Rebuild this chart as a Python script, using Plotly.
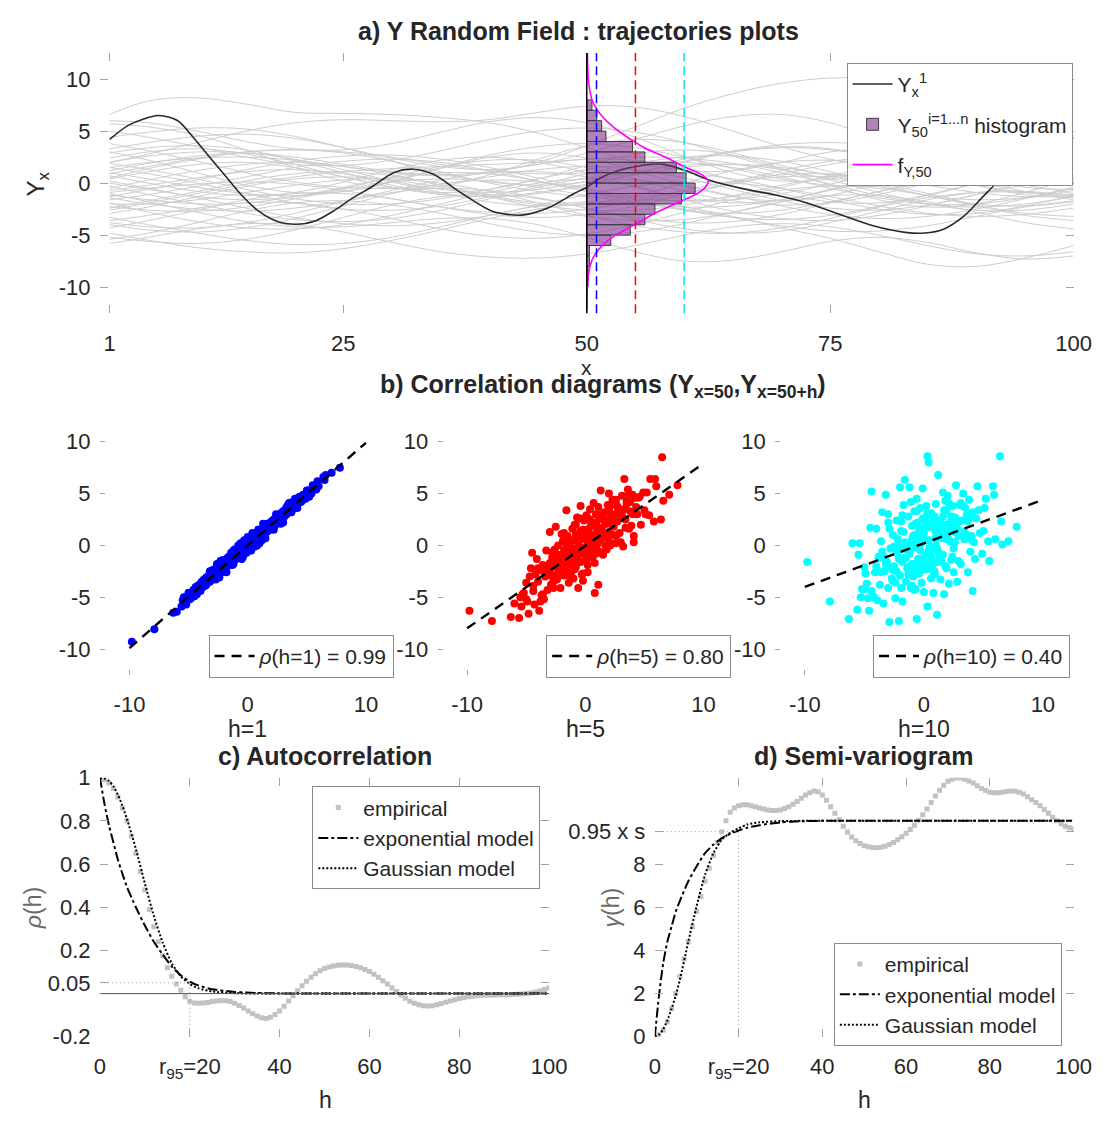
import plotly.graph_objects as go

W, H = 1119, 1129
def fx(p):
    return p / W
def fy(p):
    return 1 - p / H

FONT = "Liberation Sans, Arial, Helvetica, sans-serif"
TXT = "#262626"
AXC = "#a3a3a3"

# ---------------- panel a data ----------------
traj_x = [1, 5, 10, 15, 20, 25, 30, 35, 40, 45, 50, 55, 60, 65, 70, 75, 80, 85, 90, 95, 100]
gray_trajectories = [
    [6.6, 7.9, 8.2, 7.6, 6.8, 6.7, 6.6, 6.3, 5.8, 4.8, 3.4, 2.0, 1.2, 1.2, 2.0, 3.0, 3.3, 2.6, 1.4, 0.6, 0.6],
    [6.0, 5.8, 5.0, 4.0, 3.3, 3.2, 3.8, 4.9, 5.9, 6.3, 5.8, 4.4, 2.6, 1.0, 0.2, 0.4, 1.5, 3.0, 4.2, 4.6, 4.0],
    [5.7, 5.4, 4.6, 3.2, 1.5, 0.2, -0.5, -0.3, 0.8, 2.3, 3.6, 4.2, 3.9, 2.9, 1.7, 0.8, 0.6, 1.3, 2.6, 3.8, 4.5],
    [3.3, 3.9, 4.5, 4.7, 4.3, 3.4, 2.4, 1.6, 1.3, 1.8, 2.9, 4.2, 5.5, 6.4, 6.6, 5.8, 4.2, 2.3, 0.6, -0.4, -0.6],
    [3.0, 2.2, 1.0, -0.2, -0.9, -0.8, 0.1, 1.4, 2.5, 2.9, 2.4, 1.2, -0.2, -1.3, -1.7, -1.2, 0.1, 1.6, 2.7, 3.0, 2.5],
    [2.4, 3.0, 3.3, 2.8, 1.8, 0.6, -0.4, -0.9, -0.6, 0.4, 1.7, 2.8, 3.2, 2.7, 1.4, -0.2, -1.6, -2.3, -2.0, -0.9, 0.5],
    [1.2, 1.9, 2.6, 2.9, 2.5, 1.8, 1.1, 0.8, 1.1, 1.8, 2.3, 2.2, 1.5, 0.3, -1.0, -1.8, -1.9, -1.2, 0.0, 1.2, 2.0],
    [0.7, 0.0, -0.8, -1.2, -0.9, 0.1, 1.3, 2.2, 2.5, 2.0, 1.0, -0.3, -1.4, -1.9, -1.6, -0.6, 0.8, 2.0, 2.6, 2.4, 1.6],
    [0.4, 1.1, 1.8, 2.0, 1.5, 0.6, -0.4, -1.1, -1.3, -0.9, -0.1, 0.8, 1.5, 1.8, 1.5, 0.7, -0.3, -1.2, -1.6, -1.4, -0.7],
    [0.0, -0.6, -1.3, -1.6, -1.3, -0.5, 0.6, 1.6, 2.2, 2.2, 1.5, 0.4, -0.8, -1.7, -2.1, -1.9, -1.1, 0.0, 1.0, 1.6, 1.7],
    [-0.7, -0.2, 0.5, 1.1, 1.3, 0.9, 0.1, -0.9, -1.8, -2.2, -2.0, -1.2, 0.0, 1.2, 2.0, 2.2, 1.7, 0.8, -0.2, -0.9, -1.1],
    [-1.15, -1.6, -2.0, -1.9, -1.3, -0.4, 0.5, 1.0, 0.9, 0.2, -0.8, -1.8, -2.6, -2.9, -2.6, -1.8, -0.8, 0.1, 0.6, 0.6, 0.2],
    [-1.6, -1.1, -0.3, 0.6, 1.5, 2.1, 2.3, 2.0, 1.2, 0.2, -0.8, -1.5, -1.7, -1.3, -0.4, 0.7, 1.7, 2.3, 2.3, 1.7, 0.8],
    [-2.25, -2.6, -2.7, -2.3, -1.5, -0.6, 0.1, 0.4, 0.2, -0.4, -1.2, -1.9, -2.3, -2.2, -1.6, -0.7, 0.3, 1.0, 1.3, 1.1, 0.5],
    [-2.9, -2.3, -1.3, -0.3, 0.4, 0.6, 0.3, -0.4, -1.3, -2.1, -2.6, -2.6, -2.1, -1.2, -0.2, 0.6, 1.0, 0.8, 0.1, -0.8, -1.6],
    [-3.8, -4.2, -4.3, -3.8, -2.9, -1.8, -0.9, -0.5, -0.7, -1.4, -2.4, -3.3, -3.8, -3.7, -3.0, -1.9, -0.8, 0.0, 0.2, -0.2, -1.0],
    [-4.3, -3.6, -2.6, -1.6, -1.0, -1.0, -1.5, -2.3, -3.0, -3.3, -3.0, -2.2, -1.1, 0.0, 0.6, 0.6, 0.0, -1.0, -2.1, -2.9, -3.2],
    [-5.2, -5.6, -5.8, -5.4, -4.5, -3.3, -2.1, -1.3, -1.1, -1.5, -2.4, -3.5, -4.4, -4.8, -4.6, -3.8, -2.7, -1.6, -0.9, -0.8, -1.2],
    [-5.4, -4.8, -3.8, -2.7, -1.9, -1.7, -2.1, -2.9, -3.9, -4.7, -5.0, -4.7, -3.9, -2.8, -1.8, -1.2, -1.2, -1.8, -2.8, -3.8, -4.4],
    [4.4, 4.9, 5.3, 5.2, 4.5, 3.4, 2.1, 0.9, 0.1, -0.2, 0.1, 0.9, 2.0, 3.0, 3.5, 3.3, 2.4, 1.1, -0.2, -1.1, -1.4],
    [1.9, 1.3, 0.4, -0.6, -1.5, -2.0, -2.0, -1.5, -0.6, 0.4, 1.3, 1.9, 2.0, 1.5, 0.6, -0.5, -1.4, -2.0, -2.0, -1.4, -0.4],
    [-0.3, -1.1, -2.0, -2.9, -3.5, -3.7, -3.4, -2.6, -1.5, -0.4, 0.5, 1.0, 1.0, 0.4, -0.5, -1.6, -2.5, -3.0, -2.9, -2.2, -1.2],
    [-3.3, -4.0, -4.8, -5.5, -5.9, -5.8, -5.2, -4.2, -3.1, -2.2, -1.8, -1.9, -2.5, -3.3, -4.1, -4.6, -4.6, -4.1, -3.2, -2.3, -1.7],
    [1.5, 0.9, 0.0, -1.0, -1.9, -2.5, -2.6, -2.2, -1.3, -0.2, 0.9, 1.9, 2.5, 2.6, 2.1, 1.1, -0.1, -1.2, -2.0, -2.2, -1.8],
    [-1.9, -2.8, -3.7, -4.3, -4.4, -4.0, -3.1, -2.0, -0.9, 0.0, 0.4, 0.3, -0.3, -1.2, -2.2, -3.0, -3.4, -3.2, -2.5, -1.5, -0.5],
    [2.9, 3.4, 3.6, 3.2, 2.2, 1.0, -0.2, -1.0, -1.3, -1.0, -0.2, 0.9, 2.1, 3.0, 3.4, 3.2, 2.5, 1.5, 0.6, 0.1, 0.1],
    [-4.8, -5.5, -6.2, -6.6, -6.7, -6.3, -5.5, -4.5, -3.4, -2.5, -1.9, -1.8, -2.3, -3.2, -4.3, -5.3, -6.6, -7.8, -8.0, -7.2, -6.0],
    [0.9, 1.6, 2.4, 3.0, 3.2, 3.0, 2.5, 1.8, 1.2, 0.9, 1.0, 1.5, 2.3, 3.1, 3.7, 3.9, 3.6, 2.9, 2.0, 1.2, 0.7],
    [-0.9, -0.5, -0.1, 0.1, -0.1, -0.7, -1.5, -2.3, -2.8, -2.9, -2.5, -1.7, -0.7, 0.2, 0.8, 0.9, 0.5, -0.2, -0.9, -1.3, -1.2],
    [-2.6, -1.9, -1.0, -0.1, 0.6, 1.1, 1.4, 1.6, 1.8, 2.0, 2.3, 2.5, 2.4, 1.9, 1.0, -0.1, -1.2, -2.0, -2.3, -2.0, -1.3],
    [5.0, 4.4, 3.5, 2.5, 1.8, 1.7, 2.2, 3.1, 4.2, 5.0, 5.3, 4.9, 3.9, 2.6, 1.3, 0.4, 0.2, 0.8, 1.8, 2.9, 3.6],
    [-3.6, -3.1, -2.4, -1.9, -1.9, -2.5, -3.4, -4.4, -5.1, -5.3, -4.9, -4.0, -2.8, -1.6, -0.7, -0.3, -0.5, -1.2, -2.2, -3.1, -3.6],
    [0.2, -0.5, -1.4, -2.4, -3.3, -3.9, -4.1, -3.8, -3.1, -2.1, -1.1, -0.3, 0.1, 0.0, -0.5, -1.3, -2.2, -2.9, -3.2, -3.0, -2.4],
    [-1.3, -0.6, 0.3, 1.3, 2.1, 2.6, 2.7, 2.3, 1.5, 0.5, -0.5, -1.3, -1.7, -1.6, -1.0, -0.1, 0.9, 1.7, 2.1, 2.0, 1.4],
    [2.0, 2.6, 3.0, 2.9, 2.3, 1.3, 0.2, -0.6, -0.9, -0.6, 0.2, 1.1, 1.7, 1.8, 1.3, 0.3, -0.9, -2.0, -2.6, -2.6, -2.0],
    [-4.0, -4.5, -4.7, -4.3, -3.4, -2.2, -1.0, -0.1, 0.3, 0.1, -0.6, -1.6, -2.6, -3.3, -3.5, -3.1, -2.2, -1.1, -0.1, 0.6, 0.8],
    [3.8, 3.1, 2.1, 1.0, 0.1, -0.4, -0.5, -0.1, 0.6, 1.3, 1.6, 1.3, 0.5, -0.6, -1.7, -2.4, -2.6, -2.1, -1.1, 0.1, 1.2],
    [-0.5, 0.3, 1.2, 1.8, 2.0, 1.6, 0.8, -0.2, -1.2, -1.9, -2.1, -1.8, -1.0, 0.1, 1.2, 2.1, 2.5, 2.4, 1.8, 0.9, 0.0],
    [-2.0, -2.0, -1.6, -0.9, -0.2, 0.3, 0.4, 0.0, -0.8, -1.9, -3.1, -4.1, -4.7, -4.8, -4.3, -3.4, -2.3, -1.4, -0.9, -0.9, -1.4],
    [1.0, 0.4, -0.4, -1.0, -1.2, -0.8, 0.2, 1.5, 2.7, 3.5, 3.8, 3.4, 2.5, 1.4, 0.4, -0.2, -0.3, 0.2, 1.0, 1.8, 2.2],
    [-1.4, -2.0, -2.5, -2.7, -2.4, -1.7, -0.7, 0.3, 1.0, 1.1, 0.6, -0.4, -1.6, -2.7, -3.4, -3.6, -3.1, -2.2, -1.1, -0.2, 0.3],
    [0.5, 1.4, 2.3, 3.0, 3.2, 2.9, 2.1, 1.1, 0.0, -0.8, -1.3, -1.3, -0.9, -0.1, 0.9, 1.8, 2.4, 2.5, 2.0, 1.1, 0.1],
    [-2.4, -1.7, -0.8, 0.2, 0.9, 1.1, 0.7, -0.2, -1.3, -2.4, -3.2, -3.6, -3.5, -2.8, -1.8, -0.6, 0.4, 1.0, 1.1, 0.7, 0.0],
    [1.5, 2.0, 2.4, 2.5, 2.2, 1.6, 1.0, 0.7, 1.0, 2.0, 3.6, 5.4, 7.2, 8.6, 9.6, 10.1, 10.0, 9.2, 7.8, 6.4, 5.4],
    [2.0, 2.8, 3.9, 5.0, 5.8, 6.1, 6.0, 5.9, 6.1, 6.8, 7.4, 7.3, 6.4, 5.0, 3.5, 2.3, 1.6, 1.6, 2.2, 3.0, 3.6],
    [-5.8, -5.2, -4.4, -3.9, -4.0, -4.7, -5.7, -6.6, -7.1, -7.2, -6.8, -6.0, -5.0, -4.2, -3.9, -4.2, -5.0, -6.0, -6.8, -7.0, -6.6],
    [-1.0, -1.8, -2.8, -3.7, -4.2, -4.2, -3.8, -3.4, -3.4, -4.0, -5.2, -6.6, -7.5, -7.4, -6.6, -5.6, -5.2, -5.7, -6.7, -7.3, -7.0],
]

y1_x = [1, 3, 6, 8, 9.4, 11, 12.7, 14.4, 16.1, 18.1, 20.1, 22.1, 24.2, 26, 27.9, 30.2, 32.2, 34.2, 37.2, 40.3,
        43.3, 46, 48.7, 50, 51.2, 53.2, 55.9, 57.9, 60.2, 62.7, 66, 69.4, 72.7, 76, 79.4, 82.7, 84.7, 86.7,
        88.7, 90.7, 92, 94, 96, 98, 100]
y1_val = [4.2, 5.6, 6.5, 6.0, 4.6, 2.8, 0.9, -1.0, -2.55, -3.64, -3.95, -3.64, -2.55, -1.4, -0.37, 1.03, 1.34,
          0.87, -1.0, -2.71, -3.08, -2.4, -1.0, -0.4, 0.4, 1.18, 1.75, 1.8, 1.18, 0.25, -0.53, -1.15, -1.93,
          -3.02, -4.1, -4.73, -4.8, -4.4, -3.2, -1.3, -0.06, 1.6, 3.3, 4.2, 4.3]

hist_centers = [7.5, 6.5, 5.5, 4.5, 3.5, 2.5, 1.5, 0.5, -0.5, -1.5, -2.5, -3.5, -4.5, -5.5, -6.5, -7.5, -8.5, -9.5]
hist_lengths = [0.53, 1.03, 1.53, 1.97, 4.7, 5.97, 9.2, 10.2, 11.13, 9.73, 7.0, 5.97, 4.47, 2.47, 0.27, 0.27, 0.13, 0.13]

pdf_y = [12.7, 11.15, 9.6, 8.04, 7.1, 6.48, 5.55, 4.6, 3.99, 3.36, 2.43, 1.5, 0.87, 0.24, -0.38, -1.0, -1.93,
         -2.87, -3.49, -4.11, -5.05, -5.98, -6.92, -7.85, -9.1, -10.65, -12.2]
pdf_x = [50.07, 50.1, 50.2, 50.53, 51.03, 51.53, 52.53, 53.87, 54.87, 56.03, 58.2, 60.2, 61.7, 62.47, 62.2,
         61.37, 59.2, 57.03, 55.87, 54.7, 52.87, 51.6, 50.8, 50.37, 50.13, 50.03, 50.02]

lag_x = [51, 55, 60]
lag_colors = ["#0000ff", "#ff0000", "#00e5ee"]

# ---------------- panel b data ----------------
y50 = [
    -9.8, -7.9, -6.3, -6.0, -5.6, -5.5, -5.4, -5.2, -5.0, -4.8,
    -4.6, -4.5, -4.4, -4.3, -4.1, -4.0, -3.9, -3.8, -3.7, -3.6,
    -3.5, -3.4, -3.3, -3.2, -3.1, -3.0, -2.9, -2.8, -2.7, -2.6,
    -2.5, -2.4, -2.3, -2.2, -2.1, -2.0, -1.9, -1.8, -1.7, -1.6,
    -1.6, -1.5, -1.4, -1.4, -1.3, -1.2, -1.2, -1.1, -1.0, -1.0,
    -0.9, -0.9, -0.8, -0.8, -0.7, -0.7, -0.6, -0.6, -0.5, -0.5,
    -0.4, -0.4, -0.3, -0.3, -0.2, -0.2, -0.1, 0.0, 0.0, 0.1,
    0.1, 0.2, 0.3, 0.3, 0.4, 0.4, 0.5, 0.6, 0.6, 0.7,
    0.8, 0.8, 0.9, 1.0, 1.0, 1.1, 1.2, 1.3, 1.3, 1.4,
    1.5, 1.6, 1.6, 1.7, 1.8, 1.9, 2.0, 2.1, 2.2, 2.3,
    2.4, 2.5, 2.6, 2.7, 2.8, 2.9, 3.0, 3.1, 3.2, 3.3,
    3.4, 3.5, 3.7, 3.8, 4.0, 4.1, 4.3, 4.5, 4.1, 4.7,
    4.9, 5.1, 5.4, 5.5, 5.8, 5.9, 6.4, 6.5, 6.6, 7.1,
    7.8, -2.0, -3.0, -1.0, 0.5, 1.2, 2.2, -0.3, -1.5, 0.9,
    -2.6, 3.6, -4.2, 1.7, -0.8, 0.2, -2.3, 2.6, -1.9, 4.4,
    -3.4, 0.7, -0.2, 1.5, -1.1, 3.9, -4.7, 2.0, -0.4, 0.3,
    -2.8, -1.3, 0.4, 1.9, -0.6, 2.8, -3.6, 0.9, -1.8, 1.4,
    -0.2, 3.3, -2.2, 0.6, -4.0, 2.1, -1.0, 0.0, 1.1, -2.9,
    3.0, -0.7, 1.6, -1.5, 4.2, -3.2, 0.3, 2.4, -0.9, -2.4,
    1.3, -0.4, 3.7, -1.7, 0.8, -5.0, 2.6, -1.2, 0.1, 1.8,
    -3.8, -0.1, 2.2, -2.6, 1.0, 5.2, -0.5, -1.9, 3.4, 0.5,
    -1.1, 2.9, -3.4, 1.5, -0.8, 0.2, 4.6, -2.0, 1.2, -0.3,
    -4.4, 2.0, 0.7, -1.4, 3.1, -2.7, 0.4, 1.7, -0.6, 6.0,
    -3.0, 1.0, -1.6, 2.5, -0.1, -2.1, 3.8, 0.6, -1.0, 1.4,
    -5.3, 0.9, 2.3, -2.3, -0.4, 4.0, 1.1, -3.5, 0.0, 2.7,
    -1.2, 5.0, -0.8, 1.9, -2.5, 0.3, 3.5, -1.8, -4.9, 1.6]
y51 = [
    -9.3, -8.1, -6.5, -6.4, -5.9, -5.3, -5.0, -5.7, -4.6, -5.1,
    -4.3, -4.9, -4.1, -4.7, -3.8, -4.4, -3.5, -4.0, -3.3, -3.9,
    -3.1, -3.6, -2.9, -3.5, -2.8, -3.3, -2.6, -3.1, -2.4, -2.9,
    -2.2, -2.7, -2.0, -2.6, -1.8, -2.3, -1.6, -2.1, -1.4, -1.9,
    -1.3, -1.8, -1.1, -1.7, -1.0, -1.5, -0.9, -1.4, -0.7, -1.3,
    -0.6, -1.2, -0.5, -1.1, -0.4, -1.0, -0.3, -0.9, -0.2, -0.8,
    -0.1, -0.7, 0.0, -0.6, 0.1, -0.5, 0.2, -0.3, 0.3, -0.2,
    0.4, -0.1, 0.6, 0.0, 0.7, 0.1, 0.8, 0.3, 0.9, 0.4,
    1.1, 0.5, 1.2, 0.7, 1.3, 0.8, 1.5, 1.0, 1.6, 1.1,
    1.8, 1.3, 1.9, 1.4, 2.1, 1.6, 2.3, 1.8, 2.5, 2.0,
    2.7, 2.2, 2.9, 2.4, 3.1, 2.6, 3.3, 2.8, 3.5, 3.0,
    3.7, 3.2, 4.0, 3.5, 4.3, 3.8, 4.6, 4.2, 4.2, 4.9,
    4.5, 5.3, 5.0, 5.8, 5.4, 6.2, 6.6, 6.3, 6.8, 7.0,
    7.5, -1.7, -2.7, -0.8, 0.2, 0.9, 1.9, -0.1, -1.2, 0.6,
    -2.3, 3.3, -3.9, 1.9, -0.6, 0.5, -2.5, 2.8, -2.2, 4.7,
    -3.1, 1.0, -0.4, 1.2, -0.8, 4.1, -4.5, 1.7, -0.2, 0.2,
    -2.3, -1.9, 1.1, 1.5, 0.2, 2.1, -3.3, 1.5, -2.6, 1.6,
    -0.7, 3.7, -1.5, -0.1, -3.9, 1.8, -0.4, 0.8, 0.5, -2.5,
    2.2, -0.2, 1.9, -1.7, 3.6, -2.5, -0.1, 3.0, -0.7, -3.1,
    2.1, -0.7, 3.2, -1.2, 0.0, -4.6, 2.7, -0.5, -0.5, 2.1,
    -4.0, 0.5, 1.5, -1.8, 1.4, 4.7, -1.3, -1.7, 3.9, 0.1,
    -0.4, 2.3, -3.1, 0.7, -0.2, 0.2, 4.3, -1.5, 0.5, 0.5,
    -4.0, 2.2, 0.2, -0.7, 2.9, -3.3, 1.2, 2.0, -1.0, 5.7,
    -2.4, 0.2, -1.1, 2.6, -0.7, -1.4, 4.2, 0.1, -0.7, 0.7,
    -5.1, 1.5, 1.9, -1.5, -1.1, 4.5, 1.2, -3.8, 0.7, 2.2,
    -1.8, 5.3, 0.0, 1.7, -2.1, -0.5, 4.1, -1.6, -5.2, 2.1]
y55 = [
    -6.3, -7.3, -6.9, -5.6, -7.0, -5.0, -5.9, -4.6, -3.6, -6.6,
    -2.2, -0.7, -3.9, -5.7, -1.3, -3.5, -6.3, -2.4, -4.8, -1.9,
    -5.2, -3.0, -0.5, -4.3, -2.6, 1.3, -3.8, -1.2, -4.1, -2.0,
    1.8, -3.3, -0.9, -2.5, -4.1, -1.5, 0.4, -2.9, -1.0, 3.4,
    -2.2, 0.9, -1.7, -3.6, 0.2, -1.3, -2.6, 1.6, -0.6, -1.9,
    2.0, -0.3, -2.1, 0.8, -1.1, 2.7, -4.1, 0.3, -0.8, 1.2,
    -1.6, 3.8, -0.2, -2.8, 1.5, -0.6, 2.4, -1.4, 0.6, -0.1,
    2.9, -1.9, 1.1, 0.4, -0.7, 3.5, 0.0, 1.9, -1.2, 4.1,
    0.7, -4.6, 2.2, 0.1, 1.4, -3.8, 2.6, 0.5, 5.3, 1.7,
    -0.9, 3.2, 1.0, 2.1, -0.4, 3.9, 1.3, 2.7, 0.2, 4.4,
    1.8, 3.0, 0.9, 2.3, 3.6, 1.2, 2.8, 4.8, -0.1, 6.4,
    2.5, 4.0, 1.6, 3.3, 4.9, 0.9, 3.7, 4.6, 0.3, 2.0,
    5.1, 3.0, 2.9, 6.4, 2.3, 6.4, 2.5, 8.5, 4.3, 4.9,
    5.8, 1.1, -1.7, -3.2, 2.1, -0.6, 3.9, 0.9, -0.1, 3.0,
    -0.4, 5.4, -2.8, 0.0, 2.0, -2.6, 0.0, 0.2, -1.9, 3.0,
    -2.0, -0.3, -3.4, 2.5, -1.2, 1.9, -3.0, 5.0, 1.4, -0.9,
    -0.7, -3.0, 2.5, 0.7, 0.4, 3.5, -4.7, -0.8, 1.2, 3.0,
    -2.7, 3.5, -2.9, 1.0, -2.2, 0.0, 0.5, -0.9, 3.7, -2.9,
    0.3, -0.4, 0.8, 0.7, 4.6, -2.1, 1.6, 1.0, -2.3, -1.6,
    1.1, 2.6, 5.0, -2.8, -1.7, -5.2, 4.4, -0.7, 0.7, 1.0,
    -5.4, -0.8, 2.5, -1.3, 1.8, 5.1, -1.6, -1.8, 1.7, 0.7,
    -1.5, 3.0, -2.3, 0.9, 1.1, -1.2, 4.7, -1.1, 1.4, 0.7,
    -4.4, 3.4, 0.4, -1.6, 2.9, -3.5, -0.5, 2.4, -0.9, 5.7,
    -2.6, 1.1, -0.1, 2.5, 0.7, -1.5, 4.2, -0.2, -1.0, 1.3,
    -4.7, 1.8, 2.1, -2.4, -0.2, 3.0, 0.3, -2.5, 1.1, 3.8,
    -0.8, 3.4, -1.4, 2.1, -2.9, 0.6, 4.3, -0.5, -5.4, 0.9]
y60 = [
    -1.6, -5.4, -7.1, 0.2, -6.2, -0.9, 0.2, -4.2, -2.1, -3.7,
    -6.3, 1.7, 5.2, -4.9, -2.6, 1.6, -5.3, -1.2, -3.8, 0.4,
    3.2, -5.6, -2.5, 4.9, -1.6, 2.2, -7.4, -0.3, -3.2, 1.0,
    -2.0, -5.1, 2.4, -0.8, -7.3, -2.9, 1.4, -5.4, 3.9, -1.2,
    6.3, -3.5, 0.1, -2.2, 2.8, -0.6, 5.6, -4.1, 1.9, -1.8,
    0.7, -3.0, 3.3, -4.3, -0.2, 2.1, -7.1, 4.5, -1.3, 0.9,
    -2.7, 1.5, -0.5, 3.6, -3.6, 0.3, 5.5, -4.5, 1.2, -1.0,
    2.6, -2.3, 8.6, -5.9, 8.0, 0.5, -1.7, 3.1, -0.4, 1.8,
    -4.6, 2.3, -2.5, 0.0, 4.0, -6.7, 6.8, -1.1, 2.0, -3.3,
    1.1, 5.1, -0.9, 3.4, -2.0, 0.6, 4.8, -3.7, 1.6, -1.4,
    3.8, -0.3, 2.7, 5.8, -3.5, 0.9, 3.9, -1.8, 2.4, 5.0,
    1.3, 3.6, -2.6, 4.4, 0.9, 3.2, -1.3, 5.7, -4.4, 1.2,
    -0.8, 3.6, 0.4, -1.5, 5.7, 4.9, 8.6, 2.3, 0.1, 0.4,
    1.8, 5.6, 3.0, -3.9, -0.1, 1.7, 2.2, 0.1, -1.2, -2.8,
    -3.4, 2.9, -5.0, -4.7, 1.0, 3.8, -0.5, 0.3, 2.3, 2.6,
    -1.1, 2.9, -2.4, -1.6, 4.2, -0.6, -5.1, 0.8, -1.9, 2.0,
    -0.3, -2.8, 1.8, -2.2, 3.3, 1.6, -2.6, 2.8, -1.6, -1.3,
    0.8, 3.8, 0.6, -3.2, -2.0, 4.1, -2.0, 0.6, -0.3, 1.6,
    2.3, -4.2, 2.8, -0.4, 0.3, -1.8, 3.1, -1.1, 0.9, -3.6,
    2.4, -1.3, 2.3, 1.3, -2.5, -4.2, 1.3, -0.8, 1.8, 4.3,
    -1.1, -1.9, 0.4, -2.4, 1.3, 4.5, 2.2, -4.1, 0.6, -1.3,
    0.3, -1.5, -1.2, 1.8, -2.4, 2.2, 3.4, -0.1, -0.6, 1.4,
    -4.4, 1.3, -2.2, -0.2, 4.1, -2.1, -0.5, 2.0, 0.5, 0.6,
    -4.1, 0.7, 0.3, -2.6, 2.6, -1.3, 2.7, -1.1, 0.6, 1.4,
    -5.0, -0.2, 2.8, -2.5, 1.0, 0.6, -1.6, -0.6, -1.4, 2.1,
    -2.0, 1.4, 0.8, 3.4, -0.1, -1.2, 1.1, 2.9, -2.7, 0.7]

lags = [1, 5, 10]
rho_values = ["0.99", "0.80", "0.40"]
fit_x = [-10, 10]
fit_y = [[-9.9, 9.9], [-8.0, 7.9], [-4.0, 4.4]]
scatter_colors = ["#0000ff", "#ff0000", "#00ffff"]

# ---------------- panel c / d data ----------------
h_emp = list(range(0, 101))
rho_emp = [1.0, 0.99, 0.975, 0.95, 0.91, 0.86, 0.80, 0.73, 0.65, 0.565, 0.48, 0.39, 0.31, 0.24, 0.175, 0.12,
           0.08, 0.045, 0.015, -0.015, -0.035, -0.043, -0.045, -0.044, -0.041, -0.037, -0.034, -0.032,
           -0.033, -0.037, -0.045, -0.055, -0.067, -0.08, -0.093, -0.104, -0.112, -0.115, -0.11, -0.097,
           -0.08, -0.058, -0.034, -0.01, 0.013, 0.036, 0.057, 0.076, 0.092, 0.106, 0.116, 0.123, 0.128,
           0.131, 0.132, 0.132, 0.13, 0.126, 0.12, 0.112, 0.102, 0.09, 0.076, 0.06, 0.044, 0.027, 0.01,
           -0.007, -0.022, -0.035, -0.045, -0.052, -0.056, -0.057, -0.056, -0.052, -0.046, -0.04, -0.034,
           -0.028, -0.023, -0.019, -0.015, -0.012, -0.01, -0.008, -0.007, -0.006, -0.006, -0.005, -0.005,
           -0.005, -0.004, -0.003, -0.002, 0.0, 0.003, 0.007, 0.012, 0.019, 0.027]
gamma_emp = [0, 0.1, 0.3, 0.7, 1.3, 2.0, 2.8, 3.6, 4.4, 5.1, 5.8, 6.5, 7.2, 7.8, 8.4, 9.0, 9.5, 10.0, 10.4,
             10.6, 10.7, 10.75, 10.75, 10.7, 10.65, 10.6, 10.55, 10.5, 10.48, 10.48, 10.5, 10.57, 10.65,
             10.77, 10.9, 11.05, 11.2, 11.3, 11.38, 11.35, 11.2, 10.95, 10.65, 10.35, 10.05, 9.75, 9.48,
             9.25, 9.08, 8.95, 8.85, 8.8, 8.77, 8.76, 8.78, 8.82, 8.9, 9.0, 9.12, 9.26, 9.42, 9.6, 9.8,
             10.03, 10.28, 10.55, 10.85, 11.15, 11.42, 11.65, 11.83, 11.93, 11.98, 11.98, 11.93, 11.85,
             11.75, 11.63, 11.5, 11.4, 11.33, 11.3, 11.3, 11.32, 11.36, 11.38, 11.37, 11.32, 11.24, 11.12,
             10.98, 10.85, 10.7, 10.52, 10.35, 10.17, 10.0, 9.85, 9.75, 9.68, 9.62]

h_model = [0, 1, 2, 3, 4, 5, 6, 8, 10, 12, 14, 16, 18, 20, 22, 25, 30, 35, 40, 100]
rho_exp_model = [1.0, 0.88, 0.78, 0.70, 0.62, 0.555, 0.495, 0.40, 0.315, 0.24, 0.18, 0.125, 0.085, 0.056,
                 0.037, 0.02, 0.008, 0.003, 0.001, 0.0]
rho_gau_model = [1.0, 0.996, 0.985, 0.96, 0.92, 0.87, 0.81, 0.67, 0.51, 0.36, 0.235, 0.14, 0.08, 0.045,
                 0.024, 0.01, 0.002, 0.0, 0.0, 0.0]
gam_exp_model = [0, 1.9, 3.4, 4.4, 5.1, 5.8, 6.3, 7.2, 7.9, 8.5, 8.9, 9.2, 9.4, 9.55, 9.68, 9.8, 9.93, 9.98,
                 10.0, 10.0]
gam_gau_model = [0, 0.1, 0.35, 0.75, 1.3, 1.9, 2.65, 4.4, 6.05, 7.5, 8.5, 9.13, 9.45, 9.65, 9.83, 9.93,
                 9.99, 10.0, 10.0, 10.0]
r95 = 20
rho_thr = 0.05
sill_thr = 9.5

# tick labels (plain hyphen minus, as in the reference)
top_xticks = [1, 25, 50, 75, 100]
yx_ticks = [-10, -5, 0, 5, 10]
yx_ticktext = ["-10", "-5", "0", "5", "10"]
b_xticks = [-10, 0, 10]
b_xticktext = ["-10", "0", "10"]
h_ticks = [0, 20, 40, 60, 80, 100]
h_ticktext = ["0", "r<sub>95</sub>=20", "40", "60", "80", "100"]
rho_ticks = [-0.2, 0.05, 0.2, 0.4, 0.6, 0.8, 1.0]
rho_ticktext = ["-0.2", "0.05", "0.2", "0.4", "0.6", "0.8", "1"]
gam_ticks = [0, 2, 4, 6, 8, 9.5]
gam_ticktext = ["0", "2", "4", "6", "8", "0.95 x s"]

# ---------------- figure ----------------
fig = go.Figure()

# panel a
for tr in gray_trajectories:
    fig.add_trace(go.Scatter(x=traj_x, y=tr, mode="lines", xaxis="x", yaxis="y",
                             line=dict(color="rgb(205,205,205)", width=1, shape="spline", smoothing=1.0),
                             showlegend=False, hoverinfo="skip", zorder=0))
fig.add_trace(go.Scatter(x=y1_x, y=y1_val, mode="lines", xaxis="x", yaxis="y",
                         line=dict(color="#2a2a2a", width=1.6, shape="spline", smoothing=0.8),
                         name="Y<sub>x</sub><sup>1</sup>", legend="legend", legendgroup="g1", zorder=0))
fig.add_trace(go.Bar(y=hist_centers, x=hist_lengths, base=50, orientation="h", width=1,
                     xaxis="x", yaxis="y",
                     marker=dict(color="rgba(126,47,142,0.6)", line=dict(color="#3c3c3c", width=1)),
                     name="Y<sub>50</sub><sup>i=1...n</sup> histogram", legend="legend", legendgroup="g2",
                     zorder=1))
fig.add_trace(go.Scatter(x=pdf_x, y=pdf_y, mode="lines", xaxis="x", yaxis="y",
                         line=dict(color="#ff00ff", width=1.6, shape="spline", smoothing=0.8),
                         name="f<sub>Y,50</sub>", legend="legend", legendgroup="g3", zorder=2))

shapes = []
shapes.append(dict(type="line", xref="x", yref="y domain", x0=50, x1=50, y0=0, y1=1,
                   line=dict(color="#000000", width=1.5)))
for lx, lc in zip(lag_x, lag_colors):
    shapes.append(dict(type="line", xref="x", yref="y domain", x0=lx, x1=lx, y0=0, y1=1,
                       line=dict(color=lc, width=1.5, dash="9px,5px")))

# panel b
for i in range(3):
    ax = str(i + 2)
    yv = [y51, y55, y60][i]
    fig.add_trace(go.Scatter(x=y50, y=yv, mode="markers", xaxis="x" + ax, yaxis="y" + ax,
                             marker=dict(color=scatter_colors[i], size=8, line=dict(width=0)),
                             showlegend=False, hoverinfo="skip"))
    fig.add_trace(go.Scatter(x=fit_x, y=fit_y[i], mode="lines", xaxis="x" + ax, yaxis="y" + ax,
                             line=dict(color="#000000", width=2.4, dash="10px,7px"),
                             name="<i>ρ</i>(h=%d) = %s" % (lags[i], rho_values[i]),
                             legend="legend" + str(i + 2)))

# panel c
shapes.append(dict(type="line", xref="x5", yref="y5", x0=0, x1=100, y0=0, y1=0,
                   line=dict(color="#555555", width=1)))
shapes.append(dict(type="line", xref="x5", yref="y5", x0=0, x1=r95, y0=rho_thr, y1=rho_thr,
                   line=dict(color="#9a9a9a", width=1, dash="1px,3px")))
shapes.append(dict(type="line", xref="x5", yref="y5", x0=r95, x1=r95, y0=-0.2, y1=rho_thr,
                   line=dict(color="#9a9a9a", width=1, dash="1px,3px")))
fig.add_trace(go.Scatter(x=h_emp, y=rho_emp, mode="markers", xaxis="x5", yaxis="y5",
                         marker=dict(symbol="square", size=5, color="#c2c2c2", line=dict(width=0)),
                         name="empirical", legend="legend5"))
fig.add_trace(go.Scatter(x=h_model, y=rho_exp_model, mode="lines", xaxis="x5", yaxis="y5",
                         line=dict(color="#000000", width=2, dash="10px,3px,3px,3px", shape="spline", smoothing=0.6),
                         name="exponential model", legend="legend5"))
fig.add_trace(go.Scatter(x=h_model, y=rho_gau_model, mode="lines", xaxis="x5", yaxis="y5",
                         line=dict(color="#000000", width=2, dash="2px,2px", shape="spline", smoothing=0.6),
                         name="Gaussian model", legend="legend5"))

# panel d
shapes.append(dict(type="line", xref="x6", yref="y6", x0=0, x1=r95, y0=sill_thr, y1=sill_thr,
                   line=dict(color="#9a9a9a", width=1, dash="1px,3px")))
shapes.append(dict(type="line", xref="x6", yref="y6", x0=r95, x1=r95, y0=0, y1=sill_thr,
                   line=dict(color="#9a9a9a", width=1, dash="1px,3px")))
fig.add_trace(go.Scatter(x=h_emp, y=gamma_emp, mode="markers", xaxis="x6", yaxis="y6",
                         marker=dict(symbol="square", size=5, color="#c2c2c2", line=dict(width=0)),
                         name="empirical", legend="legend6"))
fig.add_trace(go.Scatter(x=h_model, y=gam_exp_model, mode="lines", xaxis="x6", yaxis="y6",
                         line=dict(color="#000000", width=2, dash="10px,3px,3px,3px", shape="spline", smoothing=0.6),
                         name="exponential model", legend="legend6"))
fig.add_trace(go.Scatter(x=h_model, y=gam_gau_model, mode="lines", xaxis="x6", yaxis="y6",
                         line=dict(color="#000000", width=2, dash="2px,2px", shape="spline", smoothing=0.6),
                         name="Gaussian model", legend="legend6"))

# ---------------- axes ----------------
tickfont = dict(family=FONT, size=22, color=TXT)

def box_axis(domain, rng, tickvals, ticktext=None, mirror="ticks", anchor=None, standoff=9):
    d = dict(domain=domain, range=rng, tickvals=tickvals, showline=True, linecolor=AXC, linewidth=1,
             mirror=mirror, ticks="inside", ticklen=8, tickcolor=AXC, showgrid=False, zeroline=False,
             tickfont=tickfont, anchor=anchor, ticklabelstandoff=standoff)
    if ticktext is not None:
        d["ticktext"] = ticktext
    return d

layout = dict(
    width=W, height=H, margin=dict(l=0, r=0, t=0, b=0),
    paper_bgcolor="white", plot_bgcolor="white",
    font=dict(family=FONT, size=20, color=TXT),
    barmode="overlay",
    shapes=shapes,
)

# top
layout["xaxis"] = box_axis([fx(96), fx(1091)], [0, 100], top_xticks, anchor="y", standoff=10)
layout["yaxis"] = box_axis([fy(308), fy(42)], [-12.5, 12.5], yx_ticks, yx_ticktext, anchor="x", standoff=4)
# b panels
b_dom = [[96, 398], [441, 743], [786, 1090]]
for i in range(3):
    ax = str(i + 2)
    layout["xaxis" + ax] = box_axis([fx(b_dom[i][0]), fx(b_dom[i][1])], [-12.5, 12.5], b_xticks, b_xticktext,
                                    mirror=False, anchor="y" + ax, standoff=10)
    layout["yaxis" + ax] = box_axis([fy(678), fy(413)], [-12.5, 12.5], yx_ticks, yx_ticktext,
                                    mirror=False, anchor="x" + ax, standoff=4)
    layout["xaxis" + ax]["ticklen"] = 5
    layout["yaxis" + ax]["ticklen"] = 5
# c
layout["xaxis5"] = box_axis([fx(96), fx(555)], [0, 100], h_ticks, h_ticktext, anchor="y5", standoff=10)
layout["yaxis5"] = box_axis([fy(1048), fy(783)], [-0.2, 1.0], rho_ticks, rho_ticktext, anchor="x5", standoff=4)
# d
layout["xaxis6"] = box_axis([fx(663), fx(1091)], [0, 100], h_ticks, h_ticktext, anchor="y6", standoff=10)
layout["yaxis6"] = box_axis([fy(1048), fy(783)], [0, 12], gam_ticks, gam_ticktext, anchor="x6", standoff=4)

# ---------------- legends ----------------
def leg(xp, yp, size=21, gap=0):
    return dict(x=fx(xp), y=fy(yp), xanchor="left", yanchor="top", bgcolor="white",
                bordercolor="#8a8a8a", borderwidth=1, font=dict(family=FONT, size=size, color=TXT),
                itemwidth=40, tracegroupgap=gap, itemclick=False, itemdoubleclick=False)

layout["legend"] = leg(859, 52, 21, 10)
layout["legend2"] = leg(207, 637)
layout["legend3"] = leg(552, 637)
layout["legend4"] = leg(886, 637)
layout["legend5"] = leg(313, 792, 21)
layout["legend6"] = leg(846, 952, 21)

# ---------------- annotations ----------------
ann = []
def text(xp, yp, s, size=22, bold=False, angle=0, color=TXT):
    if bold:
        s = "<b>" + s + "</b>"
    ann.append(dict(x=fx(xp), y=fy(yp), xref="paper", yref="paper", text=s, showarrow=False,
                    xanchor="center", yanchor="middle", textangle=angle,
                    font=dict(family=FONT, size=size, color=color)))

text(585, 19, "a) Y Random Field : trajectories plots", 25, True)
text(32, 176, "Y<sub>x</sub>", 24, angle=-90)
text(593, 364, "x", 21)
text(610, 382, "b) Correlation diagrams (Y<sub>x=50</sub>,Y<sub>x=50+h</sub>)", 25, True)
text(247, 733, "h=1", 23)
text(592, 733, "h=5", 23)
text(938, 733, "h=10", 23)
text(326, 761, "c) Autocorrelation", 25, True)
text(877, 761, "d) Semi-variogram", 25, True)
text(27, 916, "<i>ρ</i>(h)", 23, angle=-90, color="#6a6a6a")
text(618, 916, "<i>γ</i>(h)", 23, angle=-90, color="#6a6a6a")
text(326, 1113, "h", 23)
text(877, 1113, "h", 23)
layout["annotations"] = ann

fig.update_layout(**layout)
fig.write_html("out.html")
